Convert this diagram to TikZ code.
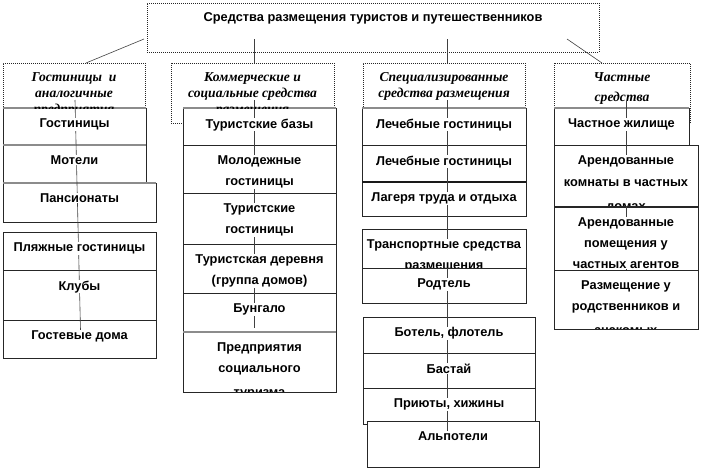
\documentclass[tikz,border=0pt]{standalone}
\usepackage{fontspec}
\setmainfont{Liberation Sans}
\newfontfamily\headfont{Liberation Serif}
\usetikzlibrary{positioning, calc}

\begin{document}
\begin{tikzpicture}[
    x=1pt, y=-1pt,
    box/.style={draw=black!85, line width=0.6pt, fill=white, inner sep=0pt, outer sep=0pt, anchor=north west},
    dotbox/.style={box, dash pattern=on 1pt off 1pt},
    top_text/.style={font=\bfseries\fontsize{12.8}{14}\selectfont, inner sep=0.5pt, anchor=north},
    head_text/.style={font=\headfont\bfseries\itshape\fontsize{13.6}{16}\selectfont, align=center, inner sep=0.5pt, anchor=north},
    item_text/.style={font=\bfseries\fontsize{12.8}{21}\selectfont, align=center, fill=white, inner sep=0.5pt, anchor=north},
    link/.style={draw=black!75, line width=0.6pt},
    sep_line/.style={draw=black!45, line width=1.5pt}
]
\useasboundingbox (0,0) rectangle (702,471);

    % Top box
    \node[dotbox, minimum width=452pt, minimum height=49pt] (top) at (147,3) {};

    % Header boxes of the four groups
    \foreach \n/\xa/\ya/\xb/\yb in {c1h/3/63/145/120, c2h/171/63/334/123, c3h/363/63/525/120, c4h/554/63/690/123}
        \node[dotbox, minimum width={(\xb-\xa)*1pt}, minimum height={(\yb-\ya)*1pt}] (\n) at (\xa,\ya) {};

    % Item boxes, column by column
    \foreach \n/\xa/\ya/\xb/\yb in {
        c1a/3/108/146/145, c1b/3/145/146/183, c1c/3/183/156/222,
        c1d/3/232/156/270, c1e/3/270/156/320, c1f/3/320/156/358,
        c2a/183/108/336/145, c2b/183/145/336/193, c2c/183/193/336/244,
        c2d/183/244/336/293, c2e/183/293/336/332, c2f/183/332/336/392,
        c3a/362/108/526/145, c3b/362/145/526/182, c3c/362/182/526/216,
        c3d/362/229/526/268, c3e/362/268/526/303, c3f/363/317/535/353,
        c3g/363/353/535/388, c3h2/363/388/535/424, c3i/367/421/539/467,
        c4a/554/108/689/145, c4b/554/145/698/206, c4c/554/207/698/270,
        c4d/554/270/698/329}
        \node[box, minimum width={(\xb-\xa)*1pt}, minimum height={(\yb-\ya)*1pt}] (\n) at (\xa,\ya) {};

    % Shaded top edges
    \foreach \n in {c1a, c1b, c1c, c2a, c2f, c3a, c4a}
        \draw[sep_line] (\n.north west) -- (\n.north east);
    \draw[sep_line, draw=black!90] (c3c.north west) -- (c3c.north east);

    % Connectors from the top box
    \draw[link] ($(top.north west)+(-3,36)$) -- ($(c1h.north)+(12,0)$);
    \draw[link] ($(top.north -| c2h.north)+(1.5,36)$) -- ($(c2h.north)+(1.5,0)$);
    \draw[link] ($(top.north -| c3h.north)+(3,36)$) -- ($(c3h.north)+(3,0)$);
    \draw[link] ($(top.north east)+(-32,36)$) -- ($(c4h.north)+(-20,0)$);

    % Connectors down each column
    \draw[link] ($(c1h.north)+(1,37)$) -- ($(c1f.north)+(1,10)$);
    \draw[link] ($(c2h.north)+(1.5,37)$) -- ($(c2h.north |- c2e.south)+(1.5,-4)$);
    \draw[link] ($(c3h.north)+(3,37)$) -- ($(c3h.north |- c3i.north)+(3,11)$);
    \draw[link] ($(c4b.north)+(0,-44)$) -- (c4c.south);

    % Texts
    \node[top_text] (top-t) at ($(top.north)+(0,9)$) {Средства размещения туристов и путешественников};

    \foreach \n/\f/\txt in {
        c1h/c1a/{Гостиницы~ и\\аналогичные\\предприятия},
        c2h/c2a/{Коммерческие и\\социальные средства\\размещения},
        c3h/c3a/{Специализированные\\средства размещения},
        c4h/c4a/{Частные\\[4pt]средства}}
    {
        \begin{scope}
            \clip (\n.north west) rectangle (\n.north east |- \f.north);
            \node[head_text] (\n-t) at ($(\n.north)+(0,8.5)$) {\txt};
        \end{scope}
    }

    \foreach \n/\txt in {
        c1a/Гостиницы, c1b/Мотели, c1c/Пансионаты,
        c1d/Пляжные гостиницы, c1e/Клубы, c1f/Гостевые дома,
        c2a/Туристские базы, c2b/{Молодежные\\гостиницы}, c2c/{Туристские\\гостиницы},
        c2d/{Туристская деревня\\(группа домов)}, c2e/Бунгало, c2f/{Предприятия\\социального\\[2.5pt]туризма},
        c3a/Лечебные гостиницы, c3b/Лечебные гостиницы, c3c/Лагеря труда и отдыха,
        c3d/{Транспортные средства\\размещения}, c3e/Родтель, c3f/{Ботель, флотель},
        c3g/Бастай, c3h2/{Приюты, хижины}, c3i/Альпотели,
        c4a/Частное жилище, c4b/{Арендованные\\[1pt]комнаты в частных\\[3pt]домах},
        c4c/{Арендованные\\помещения у\\частных агентов}, c4d/{Размещение у\\родственников и\\[3pt]знакомых}}
    {
        \begin{scope}
            \clip ([xshift=0.4pt,yshift=-0.4pt]\n.north west) rectangle ([xshift=-0.4pt,yshift=0.4pt]\n.south east);
            \node[item_text] (\n-t) at ($(\n.north)+(0,10)$) {\txt};
        \end{scope}
    }

\end{tikzpicture}
\end{document}
